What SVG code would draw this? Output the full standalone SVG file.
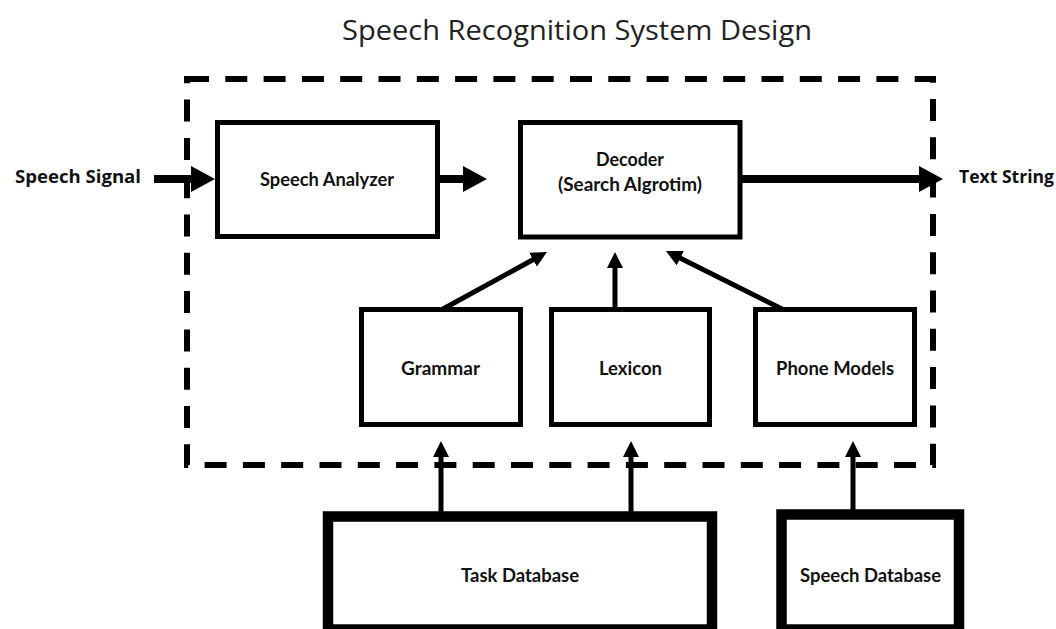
<svg xmlns="http://www.w3.org/2000/svg" width="1056" height="629" viewBox="0 0 1056 629">
<style>
.box{fill:#fff;stroke:#000;stroke-width:5}
.db{fill:#fff;stroke:#000;stroke-width:10.5}
.lbl{font-family:Lato,"Open Sans",sans-serif;font-weight:700;font-size:19px;fill:#111;text-anchor:middle}
.io{font-family:"Open Sans","Noto Sans",sans-serif;font-weight:700;font-size:17px;fill:#111}
.title{font-family:"Open Sans","Noto Sans",sans-serif;font-size:27.5px;fill:#222;text-anchor:middle}
.thick{stroke:#000;stroke-width:8;fill:none;marker-end:url(#bigHead)}
.thin{stroke:#000;stroke-width:5;fill:none;marker-end:url(#smallHead)}
</style>
<defs>
<marker id="bigHead" markerUnits="userSpaceOnUse" markerWidth="24" markerHeight="26" viewBox="0 0 24 26" refX="2" refY="13" orient="auto"><path d="M0,0 L24,13 L0,26 z" fill="#000"/></marker>
<marker id="smallHead" markerUnits="userSpaceOnUse" markerWidth="16" markerHeight="16" viewBox="0 0 16 16" refX="2" refY="8" orient="auto"><path d="M0,0 L16,8 L0,16 z" fill="#000"/></marker>
</defs>
<rect width="1056" height="629" fill="#fff"/>
<text class="title" x="577" y="40" textLength="470" lengthAdjust="spacingAndGlyphs">Speech Recognition System Design</text>
<g id="system-boundary">
<rect x="187" y="79" width="746" height="386" fill="none" stroke="#000" stroke-width="6" stroke-dasharray="22 16.3"/>
</g>
<g id="speech-signal"><text class="io" x="15" y="183" textLength="126" lengthAdjust="spacingAndGlyphs">Speech Signal</text></g>
<g id="text-string"><text class="io" x="959" y="183" textLength="95" lengthAdjust="spacingAndGlyphs">Text String</text></g>
<g id="speech-analyzer"><rect class="box" x="217.5" y="122.5" width="220" height="114"/><text class="lbl" x="327" y="186" textLength="134" lengthAdjust="spacingAndGlyphs">Speech Analyzer</text></g>
<g id="decoder"><rect class="box" x="520.5" y="122.5" width="219.5" height="114.5"/><text class="lbl" x="630" y="166" textLength="68" lengthAdjust="spacingAndGlyphs">Decoder</text><text class="lbl" x="630" y="191" textLength="144" lengthAdjust="spacingAndGlyphs">(Search Algrotim)</text></g>
<g id="grammar"><rect class="box" x="361.5" y="309.5" width="159" height="115"/><text class="lbl" x="440.5" y="375" textLength="79" lengthAdjust="spacingAndGlyphs">Grammar</text></g>
<g id="lexicon"><rect class="box" x="551.5" y="309.5" width="158" height="115"/><text class="lbl" x="630.5" y="375" textLength="63" lengthAdjust="spacingAndGlyphs">Lexicon</text></g>
<g id="phone-models"><rect class="box" x="755.5" y="309.5" width="159" height="115"/><text class="lbl" x="835" y="375" textLength="118" lengthAdjust="spacingAndGlyphs">Phone Models</text></g>
<g id="task-database"><rect class="db" x="328" y="516.5" width="384" height="113"/><text class="lbl" x="520" y="582" textLength="118" lengthAdjust="spacingAndGlyphs">Task Database</text></g>
<g id="speech-database"><rect class="db" x="781.5" y="514.5" width="177.5" height="115"/><text class="lbl" x="870.5" y="582" textLength="141" lengthAdjust="spacingAndGlyphs">Speech Database</text></g>
<g id="connectors">
<line class="thick" x1="154" y1="179" x2="193" y2="179"/>
<line class="thick" x1="440" y1="179" x2="465" y2="179"/>
<line class="thick" x1="742" y1="179" x2="921" y2="179"/>
<line class="thin" x1="443" y1="309" x2="534.7" y2="258.7"/>
<line class="thin" x1="615" y1="309" x2="615" y2="266"/>
<line class="thin" x1="782" y1="309" x2="678.5" y2="257.3"/>
<line class="thin" x1="441" y1="512" x2="441" y2="455"/>
<line class="thin" x1="631" y1="512" x2="631" y2="455"/>
<line class="thin" x1="853" y1="510" x2="853" y2="455"/>
</g>
</svg>
